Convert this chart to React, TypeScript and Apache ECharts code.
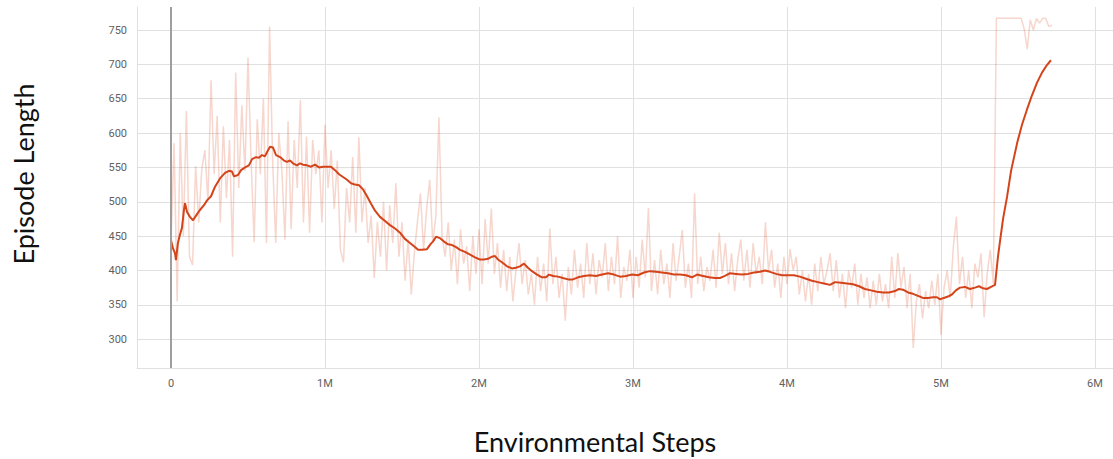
import React, { useEffect, useRef } from "react";
import * as echarts from "echarts";

const X_TITLE = "Environmental Steps";
const Y_TITLE = "Episode Length";

const X_RANGE = [-220800, 6117000];
const Y_RANGE = [258, 783.5];
const X_TICK_STEP = 1000000;
const Y_TICK_STEP = 50;

// raw (unsmoothed) episode lengths, logged every 20k steps
const RAW_STEP_INTERVAL = 20000;
const RAW_VALUES = [
  440, 585, 355, 600, 450, 632, 420, 408, 552, 470,
  548, 575, 500, 677, 540, 625, 470, 610, 505, 590,
  420, 688, 520, 640, 545, 710, 560, 441, 620, 540,
  650, 440, 755, 560, 440, 600, 545, 445, 617, 460,
  590, 520, 648, 470, 595, 455, 590, 540, 575, 470,
  612, 520, 575, 490, 560, 430, 412, 520, 470, 565,
  455, 594, 470, 520, 440, 480, 389, 470, 420, 500,
  400, 495, 440, 527, 420, 470, 385, 445, 365, 425,
  470, 512, 430, 490, 532, 440, 480, 623, 450, 420,
  470, 400, 445, 380, 460, 410, 435, 370, 450, 395,
  460, 380, 475, 410, 490, 395, 440, 375, 430, 370,
  420, 355, 400, 440, 380, 415, 365, 395, 350, 420,
  370, 410, 355, 461, 380, 420, 360, 395, 327, 405,
  365, 430, 375, 410, 360, 440, 380, 425, 365, 415,
  390, 440, 370, 420, 380, 450, 360, 405, 385, 430,
  360, 420, 375, 445, 390, 491, 370, 415, 365, 430,
  380, 410, 360, 440, 385, 420, 459, 375, 410, 360,
  512, 380, 420, 370, 405, 385, 430, 375, 455, 395,
  440, 380, 425, 370, 415, 445, 385, 430, 375, 440,
  395, 420, 380, 470, 400, 430, 375, 410, 360, 420,
  380, 431, 400, 420, 365, 400, 355, 395, 350, 410,
  370, 420, 380, 400, 425, 370, 415, 360, 395, 345,
  400, 375, 410, 350, 395, 360, 390, 345, 385, 350,
  395, 355, 380, 345, 420, 360, 425, 375, 405, 345,
  395, 287, 355, 380, 330, 370, 345, 385, 350, 395,
  306, 375, 400, 360, 434, 478, 380, 420, 360, 400,
  345, 410, 390, 425, 332, 395, 430, 380, 767, 767,
  767, 767, 767, 767, 767, 767, 767, 752, 722, 765,
  750, 767, 760, 767, 767, 755, 757,
];

// smoothed curve, steps in millions
const SMOOTH_STEPS_M = [
  0, 0.013, 0.026, 0.032, 0.045, 0.058, 0.071, 0.084, 0.091, 0.104,
  0.123, 0.143, 0.169, 0.188, 0.214, 0.234, 0.26, 0.286, 0.318, 0.351,
  0.377, 0.396, 0.409, 0.435, 0.455, 0.481, 0.506, 0.526, 0.552, 0.571,
  0.591, 0.61, 0.623, 0.643, 0.662, 0.682, 0.708, 0.734, 0.753, 0.773,
  0.792, 0.818, 0.838, 0.857, 0.883, 0.909, 0.935, 0.961, 0.987, 1.013,
  1.039, 1.065, 1.091, 1.117, 1.143, 1.169, 1.195, 1.221, 1.247, 1.273,
  1.299, 1.325, 1.357, 1.39, 1.422, 1.455, 1.487, 1.519, 1.552, 1.584,
  1.604, 1.63, 1.662, 1.688, 1.701, 1.721, 1.747, 1.773, 1.799, 1.825,
  1.851, 1.877, 1.909, 1.942, 1.974, 2.006, 2.032, 2.058, 2.084, 2.104,
  2.123, 2.149, 2.182, 2.214, 2.24, 2.266, 2.292, 2.318, 2.344, 2.377,
  2.409, 2.435, 2.455, 2.481, 2.513, 2.545, 2.578, 2.61, 2.643, 2.682,
  2.721, 2.76, 2.799, 2.838, 2.877, 2.916, 2.955, 2.994, 3.032, 3.071,
  3.11, 3.149, 3.188, 3.227, 3.266, 3.305, 3.344, 3.383, 3.416, 3.455,
  3.494, 3.532, 3.565, 3.597, 3.63, 3.669, 3.708, 3.747, 3.786, 3.825,
  3.857, 3.89, 3.929, 3.968, 4.006, 4.045, 4.084, 4.123, 4.162, 4.201,
  4.24, 4.279, 4.312, 4.351, 4.39, 4.429, 4.468, 4.506, 4.545, 4.584,
  4.623, 4.662, 4.701, 4.727, 4.753, 4.786, 4.818, 4.851, 4.883, 4.916,
  4.948, 4.974, 4.994, 5.019, 5.045, 5.071, 5.097, 5.123, 5.156, 5.188,
  5.221, 5.247, 5.273, 5.299, 5.325, 5.351, 5.37, 5.383, 5.403, 5.429,
  5.455, 5.494, 5.526, 5.558, 5.591, 5.623, 5.656, 5.688, 5.714,
];
const SMOOTH_VALUES = [
  444, 432, 425, 415, 440, 452, 462, 488, 498, 485,
  478, 473, 482, 488, 495, 502, 508, 522, 534, 542,
  545, 544, 537, 539, 546, 550, 553, 562, 565, 564,
  568, 566, 572, 580, 579, 568, 565, 560, 558, 560,
  556, 553, 556, 554, 553, 551, 554, 550, 551, 551,
  551, 546, 540, 536, 532, 527, 525, 524, 518, 508,
  497, 487, 478, 472, 466, 461, 455, 446, 440, 434,
  430, 430, 431, 439, 442, 449, 447, 442, 438, 437,
  434, 430, 427, 423, 419, 416, 416, 417, 420, 421,
  416, 412, 406, 403, 404, 406, 410, 404, 399, 394,
  390, 390, 394, 392, 391, 389, 387, 387, 390, 392,
  393, 392, 394, 396, 394, 391, 392, 394, 393, 397,
  399, 398, 397, 396, 394, 394, 393, 390, 394, 392,
  390, 389, 389, 392, 396, 395, 394, 395, 397, 398,
  400, 398, 395, 393, 393, 393, 391, 388, 385, 383,
  381, 379, 383, 382, 381, 380, 377, 373, 371, 369,
  368, 368, 370, 373, 372, 368, 366, 363, 360, 360,
  361, 361, 358, 360, 362, 365, 371, 375, 376, 373,
  375, 377, 374, 373, 376, 379, 420, 442, 475, 507,
  545, 585, 612, 634, 655, 673, 688, 699, 706,
];

const SMOOTH_COLOR = "#d4441b";

export default function App() {
  const ref = useRef<HTMLDivElement>(null);

  useEffect(() => {
    if (!ref.current) return;
    const chart = echarts.init(ref.current, null, { renderer: "svg" });

    const raw = RAW_VALUES.map((v, i) => [i * RAW_STEP_INTERVAL, v]);
    const n = Math.min(SMOOTH_STEPS_M.length, SMOOTH_VALUES.length);
    const smooth: number[][] = [];
    for (let i = 0; i < n; i++) smooth.push([SMOOTH_STEPS_M[i] * 1e6, SMOOTH_VALUES[i]]);

    const labelStyle = {
      color: "#616161",
      fontFamily: "Roboto, 'Noto Sans', sans-serif",
      fontSize: 11,
    };
    const gridLine = { color: "#e0e0e0", width: 1 };

    chart.setOption({
      animation: false,
      backgroundColor: "#ffffff",
      grid: { left: 137, top: 7, right: 0, bottom: 91, containLabel: false },
      xAxis: {
        type: "value",
        min: X_RANGE[0],
        max: X_RANGE[1],
        minInterval: X_TICK_STEP,
        maxInterval: X_TICK_STEP,
        axisLine: { show: true, onZero: false, lineStyle: { color: "#e0e0e0", width: 1 } },
        axisTick: { show: false },
        axisLabel: {
          ...labelStyle,
          margin: 10,
          showMinLabel: false,
          showMaxLabel: false,
          formatter: (v: number) => (v === 0 ? "0" : `${Math.round(v / 1e6)}M`),
        },
        splitLine: { show: true, showMinLine: false, showMaxLine: false, lineStyle: gridLine },
      },
      yAxis: {
        type: "value",
        min: Y_RANGE[0],
        max: Y_RANGE[1],
        minInterval: Y_TICK_STEP,
        maxInterval: Y_TICK_STEP,
        axisLine: { show: true, onZero: false, lineStyle: { color: "#e0e0e0", width: 1 } },
        axisTick: { show: false },
        axisLabel: {
          ...labelStyle,
          margin: 10,
          showMinLabel: false,
          showMaxLabel: false,
        },
        splitLine: { show: true, showMinLine: false, showMaxLine: false, lineStyle: gridLine },
      },
      graphic: [
        {
          type: "text",
          x: 23,
          y: 174,
          rotation: Math.PI / 2,
          style: {
            text: Y_TITLE,
            font: "27px Lato, 'Open Sans', sans-serif",
            fill: "#111",
            align: "center",
            verticalAlign: "middle",
          },
        },
        {
          type: "text",
          x: 595,
          y: 441,
          style: {
            text: X_TITLE,
            font: "27px Lato, 'Open Sans', sans-serif",
            fill: "#111",
            align: "center",
            verticalAlign: "middle",
          },
        },
      ],
      series: [
        {
          name: "raw",
          type: "line",
          data: raw,
          showSymbol: false,
          symbol: "none",
          silent: true,
          z: 2,
          lineStyle: { color: SMOOTH_COLOR, opacity: 0.22, width: 1.5 },
          markLine: {
            silent: true,
            symbol: ["none", "none"],
            label: { show: false },
            lineStyle: { color: "#9e9e9e", width: 2, type: "solid" },
            data: [{ xAxis: 0 }],
          },
        },
        {
          name: "smoothed",
          type: "line",
          data: smooth,
          showSymbol: false,
          symbol: "none",
          silent: true,
          z: 3,
          lineStyle: { color: SMOOTH_COLOR, width: 2 },
        },
      ],
    });

    return () => chart.dispose();
  }, []);

  return (
    <div
      ref={ref}
      style={{ position: "fixed", left: 0, top: 0, width: 1113, height: 459 }}
    />
  );
}
